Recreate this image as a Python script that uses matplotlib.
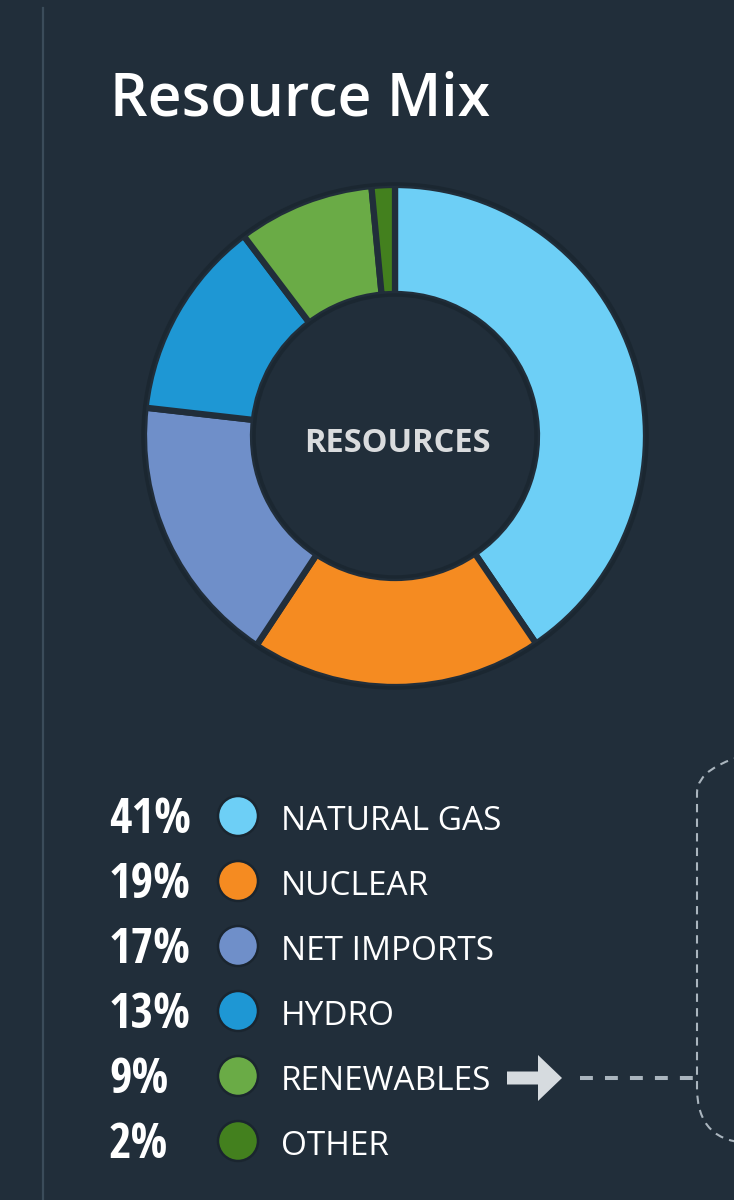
import matplotlib
matplotlib.use("Agg")
import matplotlib.pyplot as plt
from matplotlib.patches import Circle, FancyBboxPatch, Polygon
from matplotlib.lines import Line2D

# ---- data ----
categories = ["NATURAL GAS", "NUCLEAR", "NET IMPORTS", "HYDRO", "RENEWABLES", "OTHER"]
percent_labels = ["41%", "19%", "17%", "13%", "9%", "2%"]
shares = [40.5, 18.8, 17.5, 12.9, 8.8, 1.5]
colors = ["#6dcff6", "#f58b21", "#6f8fc9", "#1e97d4", "#6aab46", "#43801e"]
title = "Resource Mix"
center_label = "RESOURCES"

BG = "#212e3a"
W, H = 734, 1200

fig = plt.figure(figsize=(W / 100, H / 100), dpi=100, facecolor=BG)
ax = fig.add_axes([0, 0, 1, 1])
ax.set_facecolor(BG)

def Y(y):
    return H - y

# left vertical rule
ax.add_line(Line2D([43, 43], [Y(8), Y(1200)], color="#3b4c5a", lw=1.6))

# title
ax.text(110, Y(116), title, fontsize=42.5, color="white", family="Open Sans",
        fontweight=600, ha="left", va="baseline")

# donut
cx, cy, R, r_in = 395, Y(436), 251, 142
wedges, _ = ax.pie(shares, colors=colors, startangle=90, counterclock=False,
                   center=(cx, cy), radius=R,
                   wedgeprops=dict(width=R - r_in, edgecolor=BG, linewidth=4.5,
                                   joinstyle="miter"))
ax.add_patch(Circle((cx, cy), R + 1, fill=False, ec="#1b2731", lw=2.5))
ax.add_patch(Circle((cx, cy), r_in - 1, fill=True, fc=BG, ec="#1b2731", lw=2.5))
ax.text(cx + 2, Y(452), center_label, fontsize=23.5, color="#dadcde",
        family="Open Sans", fontweight="bold", ha="center", va="baseline")

# legend
row0, step = 818, 65
for i, (pct, cat, col) in enumerate(zip(percent_labels, categories, colors)):
    yc = row0 + i * step
    ax.text(109, Y(yc + 15), pct, fontsize=35, color="white",
            family=["Open Sans Condensed", "Roboto Condensed", "Roboto"],
            fontweight="bold", ha="left", va="baseline")
    ax.add_patch(Circle((238, Y(yc - 2)), 20, fc=col, ec="#1a252f", lw=1.8))
    ax.text(281, Y(yc + 12), cat, fontsize=24, color="white",
            family="Open Sans", ha="left", va="baseline")

# arrow next to RENEWABLES
ya = Y(1078)
arrow = Polygon([(507, ya + 6.5), (538, ya + 6.5), (538, ya + 23), (562, ya),
                 (538, ya - 23), (538, ya - 6.5), (507, ya - 6.5)],
                closed=True, fc="#d6dbdf", ec="none")
ax.add_patch(arrow)
ax.add_line(Line2D([580, 694], [ya, ya], color="#aab5be", lw=2.9,
                   dashes=(3.2, 3.0)))

# dashed rounded box at right edge (partially visible)
box = FancyBboxPatch((697, Y(1143)), 300, 1143 - 738,
                     boxstyle="round,pad=0,rounding_size=55",
                     fill=False, ec="#aab5be", lw=1.5, linestyle=(0, (4, 3)))
ax.add_patch(box)

ax.set_xlim(0, W)
ax.set_ylim(0, H)
ax.set_aspect("auto")
ax.axis("off")

fig.savefig("out.png", dpi=100, facecolor=BG)
